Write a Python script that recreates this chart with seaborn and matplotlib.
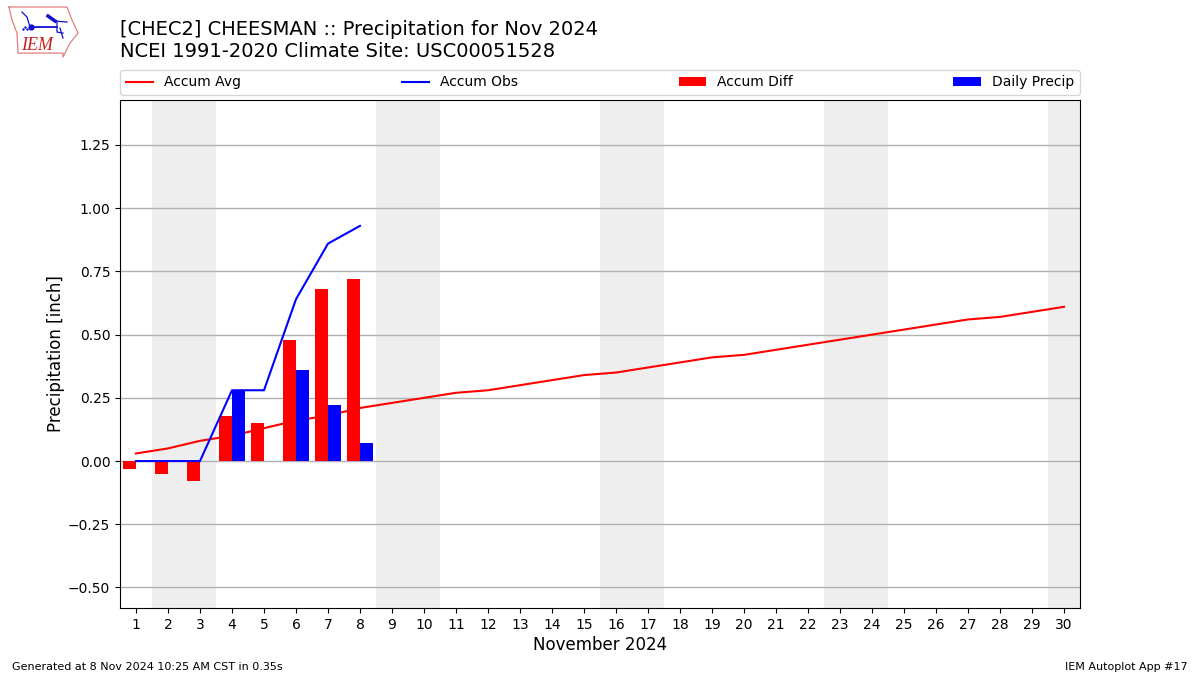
import numpy as np
import pandas as pd
import matplotlib
matplotlib.use("Agg")
import matplotlib.pyplot as plt
import seaborn as sns

# values, inches
days = list(range(1, 31))
accum_avg = [0.03, 0.05, 0.08, 0.10, 0.13, 0.16, 0.18, 0.21, 0.23, 0.25,
             0.27, 0.28, 0.30, 0.32, 0.34, 0.35, 0.37, 0.39, 0.41, 0.42,
             0.44, 0.46, 0.48, 0.50, 0.52, 0.54, 0.56, 0.57, 0.59, 0.61]
obs_days = [1, 2, 3, 4, 5, 6, 7, 8]
accum_obs = [0, 0, 0, 0.28, 0.28, 0.64, 0.86, 0.93]
accum_diff = [-0.03, -0.05, -0.08, 0.18, 0.15, 0.48, 0.68, 0.72]
daily_precip = [0, 0, 0, 0.28, 0, 0.36, 0.22, 0.07]
weekends = [(1.5, 3.5), (8.5, 10.5), (15.5, 17.5), (22.5, 24.5), (29.5, 31.5)]
yticks = [-0.5, -0.25, 0, 0.25, 0.5, 0.75, 1.0, 1.25]

bars = pd.DataFrame({
    "day": obs_days * 2,
    "value": accum_diff + daily_precip,
    "kind": ["Accum Diff"] * 8 + ["Daily Precip"] * 8,
})

fig = plt.figure(figsize=(12, 6.75), dpi=100)
ax = fig.add_axes([0.1, 0.0993, 0.8, 0.7526])

for start, end in weekends:
    ax.axvspan(start, end, color="#eeeeee", lw=0, zorder=0)

sns.lineplot(x=days, y=accum_avg, color="red", lw=1.5, label="Accum Avg", ax=ax, zorder=1.8)
sns.lineplot(x=obs_days, y=accum_obs, color="blue", lw=1.5, label="Accum Obs", ax=ax, zorder=3)
sns.barplot(data=bars, x="day", y="value", hue="kind", native_scale=True,
            palette={"Accum Diff": "red", "Daily Precip": "blue"},
            width=0.8, gap=0, saturation=1, errorbar=None, zorder=2, ax=ax)

ax.set_xlim(0.5, 30.5)
ax.set_ylim(-0.581, 1.428)
ax.set_xticks(days)
ax.set_xticklabels([str(d) for d in days])
ax.set_yticks(yticks)
ax.set_yticklabels(["\u22120.50", "\u22120.25", "0.00", "0.25", "0.50", "0.75", "1.00", "1.25"])
ax.tick_params(labelsize=10)
ax.grid(True, axis="y", color="#b0b0b0", lw=1)
ax.set_xlabel("November 2024", fontsize=12, labelpad=3)
ax.set_ylabel("Precipitation [inch]", fontsize=12, labelpad=2)

handles, labels = ax.get_legend_handles_labels()
ax.legend(handles, labels, ncol=4, mode="expand", loc="lower left",
          bbox_to_anchor=(0, 1.0098, 1, 0.05), borderaxespad=0, fontsize=10)

fig.text(0.1, 0.9095, "[CHEC2] CHEESMAN :: Precipitation for Nov 2024\nNCEI 1991-2020 Climate Site: USC00051528",
         fontsize=14, ha="left", va="bottom", linespacing=1.2)
fig.text(0.01, 0.0075, "Generated at 8 Nov 2024 10:25 AM CST in 0.35s", fontsize=8)
fig.text(0.99, 0.0075, "IEM Autoplot App #17", fontsize=8, ha="right")

# small IEM logo, pixel-like coordinates of the crop
logo = fig.add_axes([0.0, 0.905, 0.075, 0.095])
logo.set_xlim(0, 90)
logo.set_ylim(64, 0)
logo.axis("off")
state_x = [9, 67, 72, 78, 70, 63, 63, 18, 17, 12, 9]
state_y = [7, 7, 20, 33, 43, 57, 53, 53, 33, 20, 7]
logo.plot(state_x, state_y, color="#e08080", lw=0.9)
logo.plot([30, 57], [27, 27], color="#1010d0", lw=1.3)
logo.plot([31], [27], "o", color="#1010d0", ms=3.5)
logo.plot([48, 55], [16, 21], color="#1010d0", lw=2.5)
logo.plot([55, 67], [21, 22], color="#1010d0", lw=0.9)
logo.plot([57, 57, 63], [22, 32, 33], color="#1010d0", lw=0.9)
logo.plot([60, 63], [28, 38], color="#1010d0", lw=0.9)
logo.plot([22, 27, 30], [12, 17, 27], color="#1010d0", lw=0.9)
logo.plot([23, 25, 27], [29, 27, 29], ".", color="#1010d0", ms=1.5)
logo.text(21, 45, "IEM", color="#c82020", fontsize=13, family="Liberation Serif",
          style="italic", va="center")

fig.savefig("out.png", dpi=100)
